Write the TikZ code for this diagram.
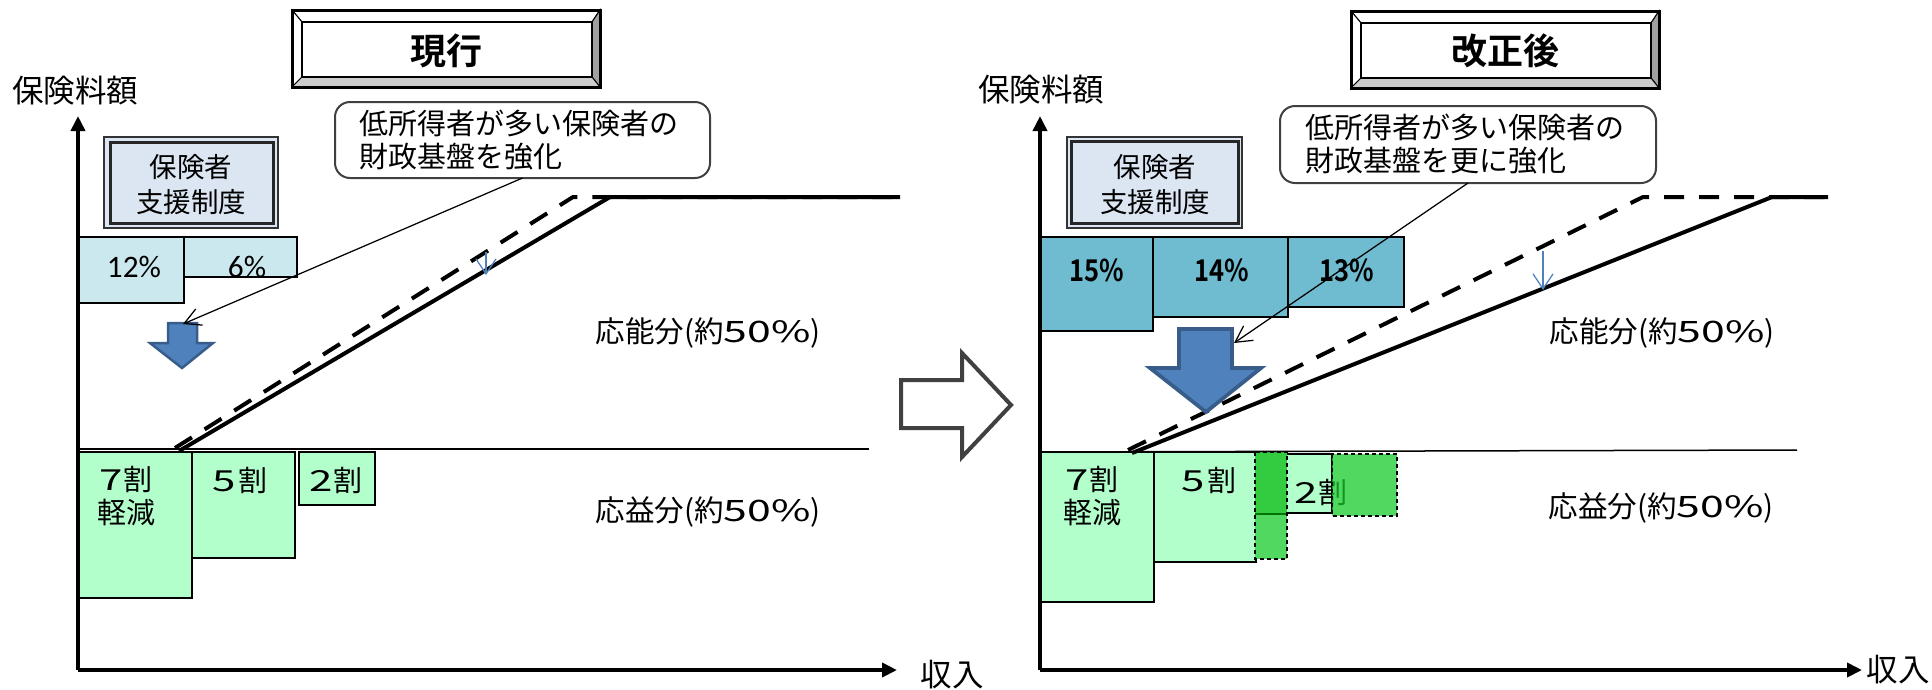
\documentclass[tikz,border=0pt]{standalone}
\usepackage{fontspec}
\setmainfont{Noto Sans CJK JP}[BoldFont={Noto Sans CJK JP Bold}]
\newfontfamily\calfont{Carlito}
\usetikzlibrary{arrows.meta}
\definecolor{bluefill}{HTML}{4F81BD}
\definecolor{blueedge}{HTML}{385D8A}
\definecolor{paleblue}{HTML}{DCE6F2}
\definecolor{lcyan}{HTML}{CCE8EF}
\definecolor{mteal}{HTML}{6FBBCF}
\definecolor{lgreen}{HTML}{B3FFCC}
\definecolor{dgreen}{HTML}{33CC40}
\definecolor{mgreen}{RGB}{80,216,96}
\definecolor{tgreen}{RGB}{21,203,43}
\definecolor{arrgray}{HTML}{404040}
\definecolor{bevgray}{HTML}{A0A0A0}
\definecolor{bevlight}{HTML}{CDCDCD}
\newcommand\wdig[1]{\scalebox{1.45}[1]{#1}}
\tikzset{
  every node/.style={inner sep=0pt, outer sep=0pt},
  axis/.style={line width=1.6pt, -{Triangle[length=6pt,width=5.6pt]}},
  solidline/.style={line width=1.6pt, line join=miter},
  dashline/.style={line width=1.6pt, dash pattern=on 8pt off 6pt},
  rangeline/.style={line width=0.6pt},
  boxc/.style={draw=black, line width=0.8pt},
  dbox/.style={draw=black, line width=0.8pt, dash pattern=on 1.6pt off 1.2pt},
  bluearr/.style={fill=bluefill, draw=blueedge, line width=1pt, line join=miter},
  grayarr/.style={fill=white, draw=arrgray, line width=1.6pt, line join=miter},
  smallarr/.style={draw=bluefill, line width=0.5pt, -{Straight Barb[length=6pt,width=8pt]}},
  conn/.style={draw=black, line width=0.5pt, -{Straight Barb[length=6.5pt,width=7pt]}},
  callout/.style={draw=black!75, line width=0.8pt, rounded corners=6pt, fill=white,
    align=left, font=\fontsize{11.6pt}{13.2pt}\selectfont},
  ylab/.style={font=\fontsize{12.6pt}{14pt}\selectfont},
  titletxt/.style={font=\fontsize{14.4pt}{16pt}\selectfont\bfseries},
  suptxt/.style={align=center, font=\fontsize{11pt}{14pt}\selectfont},
  pcttxt/.style={font=\fontsize{12.5pt}{14pt}\calfont},
  boldpct/.style={font=\fontsize{12pt}{14pt}\selectfont\bfseries},
  parttxt/.style={font=\fontsize{11.8pt}{14pt}\selectfont},
  wari/.style={align=center, font=\fontsize{11.6pt}{13.2pt}\selectfont},
}
\begin{document}
\begin{tikzpicture}[x=0.4pt, y=-0.4pt]
\useasboundingbox (0,0) rectangle (1932,689);

% ================= LEFT PANEL =================
\fill[white] (292,10) rectangle (600,87);
\filldraw[fill=white, draw=black, line width=0.4pt] (292,10) -- (600,10) -- (592,22) -- (302,22) -- cycle;
\filldraw[fill=white, draw=black, line width=0.4pt] (292,10) -- (302,22) -- (302,77) -- (292,87) -- cycle;
\filldraw[fill=bevgray, draw=black, line width=0.4pt] (600,10) -- (600,87) -- (592,77) -- (592,22) -- cycle;
\filldraw[fill=bevlight, draw=black, line width=0.4pt] (292,87) -- (600,87) -- (592,77) -- (302,77) -- cycle;
\draw[line width=1.2pt] (292,10) rectangle (600,87);
\draw[line width=1pt] (302,22) rectangle (592,77);
\node[titletxt] (t1) at (446,51) {現行};

\node[ylab] (y1) at (75,91) {保険料額};

\draw[draw=black!80, line width=0.6pt, fill=paleblue] (104,137) rectangle (278,228);
\draw[draw=black!85, line width=1.2pt] (110,142) rectangle (273,223);
\node[suptxt] (s1) at (191,185) {保険者\\支援制度};

\draw[boxc, fill=lcyan] (78,237) rectangle (184,303);
\draw[boxc, fill=lcyan] (184,237) rectangle (297,277);
\node[pcttxt] (p12) at (134,267) {12\%};
\node[pcttxt] (p6) at (247,267) {6\%};

\draw[boxc, fill=lgreen] (78,452) rectangle (192,598);
\draw[boxc, fill=lgreen] (192,452) rectangle (295,558);
\draw[boxc, fill=lgreen] (299,452) rectangle (375,505);
\node[wari] (w7) at (126,496) {\wdig{7}割\\軽減};
\node[wari] (w5) at (240,480) {\wdig{5}\kern0.1em割};
\node[wari] (w2) at (336,480) {\wdig{2}割};

\draw[rangeline] (78,449) -- (869,449);

\draw[dashline] (175,448) -- (573,197) -- (900,197);
\draw[solidline] (179,451) -- (610,197) -- (900,197);
\draw[smallarr] (486,252) -- (486,275);

\node[parttxt] (a1) at (708,333) {応能分(約\wdig{50\%})};
\node[parttxt] (b1) at (708,512) {応益分(約\wdig{50\%})};

\draw[bluearr] (168,323) -- (197,323) -- (197,343) -- (213,343) -- (182,368) -- (150,343) -- (168,343) -- cycle;
\coordinate (arrL) at (183,324);

\node[callout, anchor=north west, minimum width=150pt, minimum height=30.4pt, text width=130.8pt] (call1) at (335,102)
  {低所得者が多い保険者の\\財政基盤を強化};
\draw[conn] (call1.south) -- (arrL);

\coordinate (o1) at (78,670);
\draw[axis] (o1) -- (78,116);
\draw[axis] (o1) -- (897,670);
\node[ylab] (x1) at (952,675) {収入};

% ================= MIDDLE ARROW =================
\draw[grayarr] (901,380) -- (962,380) -- (962,353) -- (1011,405) -- (962,457) -- (962,428) -- (901,428) -- cycle;

% ================= RIGHT PANEL =================
\fill[white] (1351,11) rectangle (1659,88);
\filldraw[fill=white, draw=black, line width=0.4pt] (1351,11) -- (1659,11) -- (1651,23) -- (1361,23) -- cycle;
\filldraw[fill=white, draw=black, line width=0.4pt] (1351,11) -- (1361,23) -- (1361,78) -- (1351,88) -- cycle;
\filldraw[fill=bevgray, draw=black, line width=0.4pt] (1659,11) -- (1659,88) -- (1651,78) -- (1651,23) -- cycle;
\filldraw[fill=bevlight, draw=black, line width=0.4pt] (1351,88) -- (1659,88) -- (1651,78) -- (1361,78) -- cycle;
\draw[line width=1.2pt] (1351,11) rectangle (1659,88);
\draw[line width=1pt] (1361,23) rectangle (1651,78);
\node[titletxt] (t2) at (1505,51) {改正後};

\node[ylab] (y2) at (1041,90) {保険料額};

\draw[draw=black!80, line width=0.6pt, fill=paleblue] (1067,137) rectangle (1242,228);
\draw[draw=black!85, line width=1.2pt] (1071,141) rectangle (1238,223);
\node[suptxt] (s2) at (1155,185) {保険者\\支援制度};

\draw[boxc, line width=1.1pt, fill=mteal] (1041,237) rectangle (1153,331);
\draw[boxc, line width=1.1pt, fill=mteal] (1153,237) rectangle (1288,317);
\draw[boxc, line width=1.1pt, fill=mteal] (1288,237) rectangle (1404,307);
\node[boldpct] (p15) at (1097,270) {\scalebox{0.85}[1]{15\%}};
\node[boldpct] (p14) at (1222,270) {\scalebox{0.85}[1]{14\%}};
\node[boldpct] (p13) at (1347,270) {\scalebox{0.85}[1]{13\%}};

\draw[boxc, fill=lgreen] (1040,452) rectangle (1154,602);
\draw[boxc, fill=lgreen] (1154,452) rectangle (1256,562);
\draw[boxc, fill=lgreen] (1256,454) rectangle (1332,513);
\node[wari] (w7b) at (1092,496) {\wdig{7}割\\軽減};
\node[wari] (w5b) at (1209,480) {\wdig{5}\kern0.1em割};
\node[wari] (w2b) at (1321,492) {\wdig{2}割};
\fill[dgreen] (1255,452) rectangle (1287,514);
\fill[mgreen] (1255,514) rectangle (1287,559);
\draw[green!45!black, line width=0.6pt] (1255,514) -- (1287,514);
\draw[dbox] (1255,452) rectangle (1287,559);
\fill[tgreen, fill opacity=0.75] (1332,454) rectangle (1397,516);
\draw[dbox] (1332,454) rectangle (1397,516);

\draw[rangeline] (1040,452) -- (1797,450);

\draw[dashline] (1128,450) -- (1643,197) -- (1828,197);
\draw[solidline] (1132,453) -- (1772,197) -- (1828,197);
\draw[smallarr] (1543,251) -- (1543,290);

\node[parttxt] (a2) at (1662,333) {応能分(約\wdig{50\%})};
\node[parttxt] (b2) at (1661,508) {応益分(約\wdig{50\%})};

\draw[bluearr, line width=1.5pt] (1179,329) -- (1232,329) -- (1232,368) -- (1261,368) -- (1206,412) -- (1150,368) -- (1179,368) -- cycle;
\coordinate (arrR) at (1234,343);

\node[callout, anchor=north west, minimum width=150.4pt, minimum height=30.8pt, text width=130.4pt] (call2) at (1280,106)
  {低所得者が多い保険者の\\財政基盤を更に強化};
\draw[conn] (call2.south) -- (arrR);

\coordinate (o2) at (1040,670);
\draw[axis] (o2) -- (1040,116);
\draw[axis] (o2) -- (1862,670);
\node[ylab] (x2) at (1898,670) {収入};
\end{tikzpicture}
\end{document}
